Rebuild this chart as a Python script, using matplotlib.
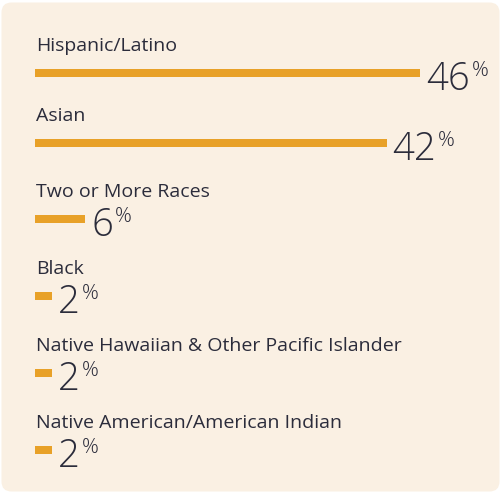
import matplotlib

matplotlib.use("Agg")
import matplotlib.pyplot as plt
from matplotlib.patches import FancyBboxPatch

categories = [
    "Hispanic/Latino",
    "Asian",
    "Two or More Races",
    "Black",
    "Native Hawaiian & Other Pacific Islander",
    "Native American/American Indian",
]
values = [46, 42, 6, 2, 2, 2]

W, H = 501, 493
PX_PER_PCT = 8.37
BAR_X0 = 35
bar_y = [73, 143, 219, 296, 373, 450]

BG = "#faf0e3"
BAR = "#e8a128"
TEXT = "#2b2c3b"

fig = plt.figure(figsize=(W / 100, H / 100), dpi=100)
fig.patch.set_facecolor("white")

panel = FancyBboxPatch(
    (1.5, 1.5), W - 3, H - 4,
    boxstyle="round,pad=0,rounding_size=10",
    transform=None, facecolor=BG, edgecolor="none", zorder=-10,
)
# transform=None means pixel coordinates from bottom-left
fig.patches.append(panel)

ax = fig.add_axes([0, 0, 1, 1])
ax.set_facecolor("none")
ax.set_xlim(-BAR_X0 / PX_PER_PCT, (W - BAR_X0) / PX_PER_PCT)
ax.set_ylim(H, 0)
ax.axis("off")

ax.barh(bar_y, values, height=8.5, left=0, color=BAR)

fig.canvas.draw()
renderer = fig.canvas.get_renderer()
for cat, val, y in zip(categories, values, bar_y):
    ax.text(0.1, y - 22, cat, fontsize=14, family="Open Sans", color=TEXT,
            va="baseline", ha="left")
    x_num = val + 6 / PX_PER_PCT
    num = ax.text(x_num, y + 17, str(val), fontsize=27.5, family="Open Sans",
                  fontweight=300, color=TEXT, va="baseline", ha="left")
    bb = num.get_window_extent(renderer=renderer)
    x_end = ax.transData.inverted().transform((bb.x1 + 2, 0))[0]
    ax.text(x_end, y + 3, "%", fontsize=15, family="Open Sans",
            fontweight=300, color=TEXT, va="baseline", ha="left")

fig.savefig("out.png", dpi=100, facecolor=fig.get_facecolor())
